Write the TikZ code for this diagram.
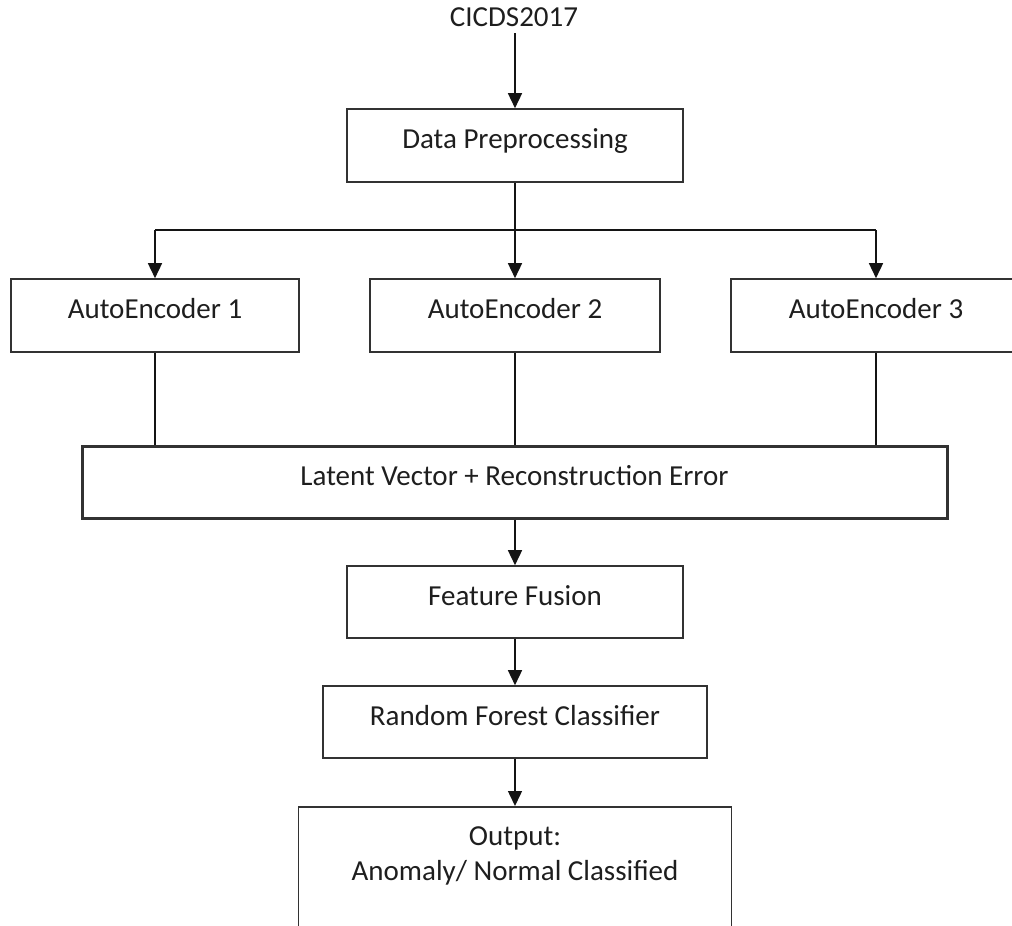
\documentclass[tikz,border=0pt]{standalone}
\usepackage{fontspec}
\setmainfont{Carlito}
\usetikzlibrary{arrows.meta}
\definecolor{linegray}{RGB}{20,20,20}
\definecolor{boxgray}{RGB}{50,50,50}
\definecolor{txtgray}{RGB}{30,30,30}
\begin{document}
\begin{tikzpicture}[x=1pt,y=-1pt,
  txt/.style={font=\fontsize{29}{35}\selectfont, text=txtgray},
  box/.style={txt, draw=boxgray, line width=1.6pt, rectangle, inner sep=0pt,
    text height=18pt, text depth=12pt, minimum height=73pt},
  conn/.style={line width=1.5pt, draw=linegray},
  arr/.style={conn, -{Triangle[width=14pt,length=15pt]}}]
\clip (0,0) rectangle (1012,926);
\useasboundingbox (0,0) rectangle (1012,926);

\node[txt, anchor=base, inner sep=0pt] (src) at (514,26) {CICDS2017};
\node[box, minimum width=336pt] (dp) at (515,145.5) {Data Preprocessing};
\coordinate (split) at (515,230);

\node[box, minimum width=288pt] (ae1) at (155,315.5) {AutoEncoder 1};
\node[box, minimum width=290pt] (ae2) at (515,315.5) {AutoEncoder 2};
\node[box, minimum width=290pt] (ae3) at (876,315.5) {AutoEncoder 3};

\node[box, line width=3pt, minimum width=865pt, minimum height=72pt] (lat) at (514.5,482) {Latent Vector + Reconstruction Error};
\node[box, minimum width=336pt, minimum height=72pt] (ff) at (515,602) {Feature Fusion};
\node[box, minimum width=384pt, minimum height=72pt] (rf) at (515,722) {Random Forest Classifier};
\node[box, anchor=north, minimum width=433pt, minimum height=0pt, text height=39pt, text depth=101pt] (out) at (515,806)
  {\begin{tabular}[t]{@{}c@{}}Output:\\Anomaly/ Normal Classified\end{tabular}};

\draw[arr] (src.south -| dp.north) ++(0,7) -- (dp.north);
\draw[conn] (dp.south) -- (split);
\draw[conn] (split -| ae1.north) -- (split -| ae3.north);
\draw[arr] (split -| ae1.north) -- (ae1.north);
\draw[arr] (split) -- (ae2.north);
\draw[arr] (split -| ae3.north) -- (ae3.north);

\draw[conn] (ae1.south) -- (ae1.south |- lat.north);
\draw[conn] (ae2.south) -- (ae2.south |- lat.north);
\draw[conn] (ae3.south) -- (ae3.south |- lat.north);

\draw[arr] (lat.south -| ff.north) -- (ff.north);
\draw[arr] (ff.south) -- (rf.north);
\draw[arr] (rf.south) -- (out.north);
\end{tikzpicture}
\end{document}
